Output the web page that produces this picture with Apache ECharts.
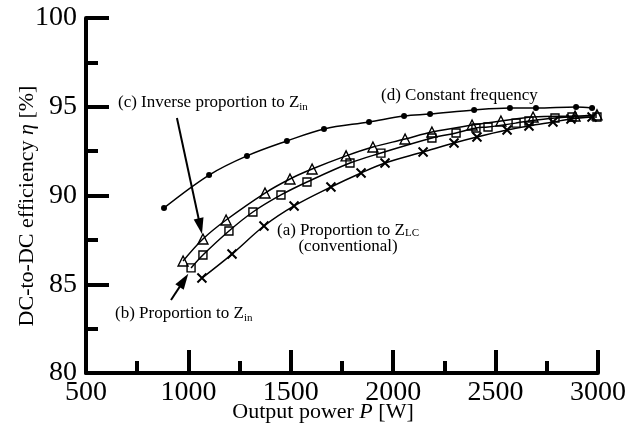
<!DOCTYPE html>
<html>
<head>
<meta charset="utf-8">
<script src="https://cdn.jsdelivr.net/npm/echarts/dist/echarts.min.js"></script>
<style>
  html, body { margin: 0; padding: 0; background: #fff; }
  #chart { width: 640px; height: 432px; }
</style>
</head>
<body>
<div id="chart"></div>
<script>
// Output power [W] and DC-to-DC efficiency [%] for each control method
const powerA = [1066, 1213, 1369, 1516, 1696, 1843, 1960, 2146, 2297, 2409, 2556, 2663, 2780, 2868, 2971];
const effA   = [85.35, 86.70, 88.28, 89.41, 90.48, 91.27, 91.83, 92.45, 92.96, 93.30, 93.69, 93.92, 94.14, 94.31, 94.42];

const powerB = [1013, 1071, 1198, 1315, 1452, 1579, 1789, 1940, 2189, 2307, 2404, 2463, 2600, 2663, 2790, 2873, 2995];
const effB   = [85.92, 86.65, 88.00, 89.07, 90.03, 90.76, 91.83, 92.39, 93.24, 93.52, 93.80, 93.86, 94.08, 94.20, 94.37, 94.42, 94.42];

const powerC = [974, 1071, 1184, 1374, 1496, 1604, 1770, 1901, 2058, 2189, 2385, 2526, 2683, 2888, 2995];
const effC   = [86.31, 87.55, 88.62, 90.14, 90.93, 91.49, 92.23, 92.73, 93.18, 93.58, 93.97, 94.20, 94.42, 94.48, 94.54];

const powerD = [881, 1101, 1286, 1481, 1662, 1882, 2053, 2180, 2395, 2570, 2697, 2893, 2971];
const effD   = [89.30, 91.15, 92.23, 93.07, 93.75, 94.14, 94.48, 94.59, 94.82, 94.93, 94.93, 94.99, 94.93];

// Axis ranges
const xRange = [500, 3000, 500];
const yRange = [80, 100, 5];

// Arrow annotations in data space: [start, end]
const arrowC = [[944, 94.37], [1058, 88.27]];
const arrowB = [[915, 84.11], [978, 85.22]];

const SERIF = 'Liberation Serif, Times New Roman, serif';

function pairs(xs, ys) { return xs.map((x, i) => [x, ys[i]]); }

function arrow(pts) {
  return {
    silent: true,
    animation: false,
    symbol: ['none', 'triangle'],
    symbolSize: [10, 16],
    label: { show: false },
    lineStyle: { color: '#000', width: 2, type: 'solid' },
    itemStyle: { color: '#000' },
    emphasis: { disabled: true },
    data: [[{ coord: pts[0] }, { coord: pts[1] }]]
  };
}

function curve(name, xs, ys, symbol, size, filled, extra) {
  return Object.assign({
    name: name,
    type: 'line',
    data: pairs(xs, ys),
    smooth: 0.35,
    symbol: symbol,
    symbolSize: size,
    showSymbol: true,
    lineStyle: { color: '#000', width: 1.5 },
    itemStyle: filled
      ? { color: '#000', borderColor: '#000', borderWidth: 0 }
      : { color: 'rgba(0,0,0,0)', borderColor: '#000', borderWidth: 1.4 },
    emphasis: { disabled: true },
    z: 3
  }, extra || {});
}

const chart = echarts.init(document.getElementById('chart'), null, { renderer: 'canvas' });

const axisCommon = {
  axisLine: { show: true, lineStyle: { color: '#000', width: 4 } },
  axisTick: { show: true, inside: true, length: 23, lineStyle: { color: '#000', width: 4 } },
  minorTick: { show: true, splitNumber: 2, length: 12, lineStyle: { color: '#000', width: 4 } },
  splitLine: { show: false },
  axisLabel: { color: '#000', fontFamily: SERIF, fontSize: 28, formatter: v => String(v) }
};

const textBase = { fill: '#000', fontFamily: SERIF };

chart.setOption({
  animation: false,
  backgroundColor: '#fff',
  grid: { left: 86, right: 42, top: 18, bottom: 59, containLabel: false },
  xAxis: Object.assign({}, axisCommon, {
    type: 'value',
    min: xRange[0], max: xRange[1], interval: xRange[2],
    axisLabel: Object.assign({}, axisCommon.axisLabel, { margin: 6 })
  }),
  yAxis: Object.assign({}, axisCommon, {
    type: 'value',
    min: yRange[0], max: yRange[1], interval: yRange[2],
    axisLabel: Object.assign({}, axisCommon.axisLabel, { margin: 9 })
  }),
  series: [
    curve('(a) Proportion to Z_LC', powerA, effA, 'path://M0,0L10,10M10,0L0,10', 9, false,
      { itemStyle: { color: 'rgba(0,0,0,0)', borderColor: '#000', borderWidth: 2 } }),
    curve('(b) Proportion to Z_in', powerB, effB, 'rect', 8, false, { markLine: arrow(arrowB) }),
    curve('(c) Inverse proportion to Z_in', powerC, effC, 'triangle', 10, false, { markLine: arrow(arrowC) }),
    curve('(d) Constant frequency', powerD, effD, 'circle', 6, true)
  ],
  graphic: [
    {
      type: 'text', x: 323, y: 412, silent: true,
      style: Object.assign({}, textBase, {
        text: '{n|Output power }{i|P}{n| [W]}',
        align: 'center', verticalAlign: 'middle',
        rich: {
          n: { fontSize: 22, fontFamily: SERIF, fill: '#000' },
          i: { fontSize: 22, fontFamily: SERIF, fontStyle: 'italic', fill: '#000' }
        }
      })
    },
    {
      type: 'text', x: 27, y: 206, rotation: Math.PI / 2, silent: true,
      style: Object.assign({}, textBase, {
        text: '{n|DC-to-DC efficiency }{i|η}{n| [%]}',
        align: 'center', verticalAlign: 'middle',
        rich: {
          n: { fontSize: 22, fontFamily: SERIF, fill: '#000' },
          i: { fontSize: 22, fontFamily: SERIF, fontStyle: 'italic', fill: '#000' }
        }
      })
    },
    {
      type: 'text', x: 118, y: 103, silent: true,
      style: Object.assign({}, textBase, {
        text: '{n|(c) Inverse proportion to Z}{s|in}',
        align: 'left', verticalAlign: 'middle',
        rich: {
          n: { fontSize: 17, fontFamily: SERIF, fill: '#000', lineHeight: 20 },
          s: { fontSize: 11, fontFamily: SERIF, fill: '#000', verticalAlign: 'bottom', lineHeight: 20 }
        }
      })
    },
    {
      type: 'text', x: 381, y: 96, silent: true,
      style: Object.assign({}, textBase, {
        text: '(d) Constant frequency',
        fontSize: 17,
        align: 'left', verticalAlign: 'middle'
      })
    },
    {
      type: 'text', x: 348, y: 239, silent: true,
      style: Object.assign({}, textBase, {
        text: '{n|(a) Proportion to Z}{s|LC}\n{n|(conventional)}',
        align: 'center', verticalAlign: 'middle',
        rich: {
          n: { fontSize: 17, fontFamily: SERIF, fill: '#000', lineHeight: 16 },
          s: { fontSize: 11, fontFamily: SERIF, fill: '#000', verticalAlign: 'bottom', lineHeight: 16 }
        }
      })
    },
    {
      type: 'text', x: 115, y: 314, silent: true,
      style: Object.assign({}, textBase, {
        text: '{n|(b) Proportion to Z}{s|in}',
        align: 'left', verticalAlign: 'middle',
        rich: {
          n: { fontSize: 17, fontFamily: SERIF, fill: '#000', lineHeight: 20 },
          s: { fontSize: 11, fontFamily: SERIF, fill: '#000', verticalAlign: 'bottom', lineHeight: 20 }
        }
      })
    }
  ]
});
</script>
</body>
</html>
